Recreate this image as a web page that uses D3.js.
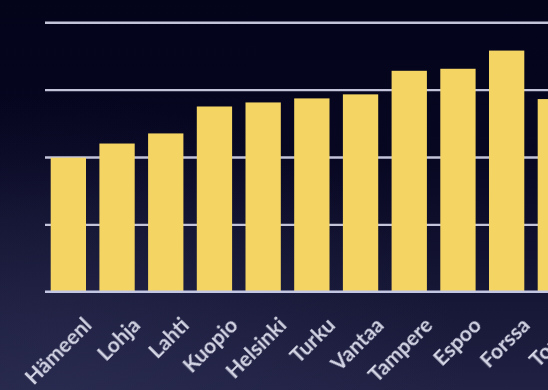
<!DOCTYPE html>
<html>
<head>
<meta charset="utf-8">
<script src="https://cdn.jsdelivr.net/npm/d3@7"></script>
<style>
  html, body { margin: 0; padding: 0; background: #05051c; overflow: hidden; }
  svg { display: block; }
</style>
</head>
<body>
<svg id="chart" width="548" height="390"></svg>
<script>
// Cities along the x axis
const cities = ["Hämeenl", "Lohja", "Lahti", "Kuopio", "Helsinki", "Turku",
                "Vantaa", "Tampere", "Espoo", "Forssa", "Tornio"];
// Bar values, one per city
const values = [19.9, 22.0, 23.5, 27.5, 28.1, 28.7, 29.3, 32.8, 33.1, 35.8, 28.6];
// Gridline levels
const gridTicks = [10, 20, 30, 40];
const yMax = 40;

const W = 548, H = 390;
const svg = d3.select("#chart");

// Background: deep navy, lifting towards the bottom-left
const defs = svg.append("defs");
const lin = defs.append("linearGradient").attr("id", "bgLin")
  .attr("x1", 0).attr("y1", 0).attr("x2", 0).attr("y2", 1);
lin.append("stop").attr("offset", "0%").attr("stop-color", "#03031a");
lin.append("stop").attr("offset", "40%").attr("stop-color", "#070722");
lin.append("stop").attr("offset", "100%").attr("stop-color", "#202143");
const rad = defs.append("radialGradient").attr("id", "bgRad")
  .attr("cx", 0.1).attr("cy", 1.0).attr("r", 0.75);
rad.append("stop").attr("offset", "0%").attr("stop-color", "#2e3056").attr("stop-opacity", 0.6);
rad.append("stop").attr("offset", "100%").attr("stop-color", "#2e3056").attr("stop-opacity", 0);

const glow = defs.append("filter").attr("id", "soft")
  .attr("x", "-20%").attr("y", "-20%").attr("width", "140%").attr("height", "140%");
glow.append("feGaussianBlur").attr("stdDeviation", 0.5);

svg.append("rect").attr("width", W).attr("height", H).attr("fill", "url(#bgLin)");
svg.append("rect").attr("width", W).attr("height", H).attr("fill", "url(#bgRad)");

const x = d3.scaleBand()
  .domain(cities)
  .range([44, 44 + 48.7 * cities.length])
  .paddingInner(0.275)
  .paddingOuter(0.1375);

const y = d3.scaleLinear()
  .domain([0, yMax])
  .range([291.7, 22.3]);

// Horizontal gridlines behind the bars
const grid = svg.append("g")
  .attr("transform", "translate(45,0)")
  .call(d3.axisLeft(y).tickValues(gridTicks).tickSize(-(W + 10)).tickFormat(""));
grid.select(".domain").remove();
grid.selectAll(".tick line")
  .attr("stroke", "#c3c3da")
  .attr("stroke-width", 2.4);

// Bars
svg.append("g").selectAll("rect")
  .data(cities)
  .join("rect")
  .attr("x", d => x(d))
  .attr("y", (d, i) => y(values[i]))
  .attr("width", x.bandwidth())
  .attr("height", (d, i) => y(0) - y(values[i]))
  .attr("fill", "#f4d564");

// Baseline
const base = svg.append("g")
  .attr("transform", `translate(0,${y(0)})`)
  .call(d3.axisBottom(x).tickSize(0).tickFormat(""));
base.select(".domain")
  .attr("d", `M45,0H${W + 10}`)
  .attr("stroke", "#c2c6e2")
  .attr("stroke-width", 2.6);

// Rotated city labels
svg.append("g").selectAll("text")
  .data(cities)
  .join("text")
  .attr("transform", d => `translate(${x(d) + x.bandwidth() / 2 + 14},${316}) rotate(-45)`)
  .attr("text-anchor", "end")
  .attr("dy", "0.72em")
  .attr("font-family", "Lato, 'Open Sans', sans-serif")
  .attr("font-weight", 700)
  .attr("font-size", 21)
  .attr("fill", "#d3d4e4")
  .attr("filter", "url(#soft)")
  .text(d => d);
</script>
</body>
</html>
